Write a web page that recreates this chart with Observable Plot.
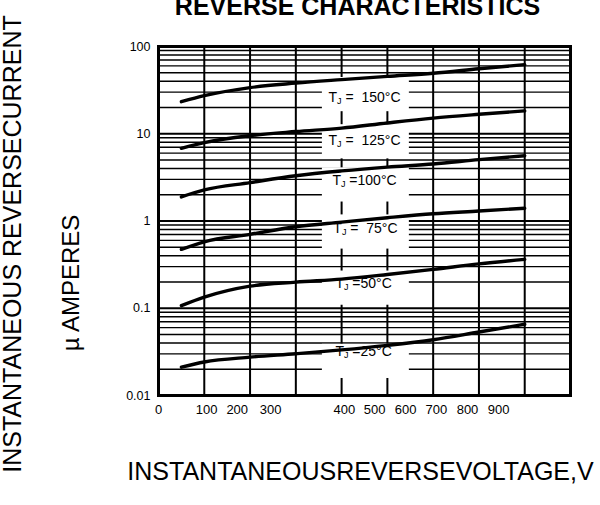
<!DOCTYPE html>
<html><head><meta charset="utf-8">
<script src="https://cdn.jsdelivr.net/npm/d3@7"></script>
<script src="https://cdn.jsdelivr.net/npm/@observablehq/plot@0.6"></script>
<style>
body{margin:0;background:#fff}
svg{font-family:Arial,"Liberation Sans",sans-serif}
</style>
</head><body><div id="chart"></div>
<script>
// Reverse voltage (x) sample points
const voltages = [50, 100, 200, 300, 400, 500, 600, 700, 800];
// Reverse current (µA) per junction temperature
const tempNames = ["150", "125", "100", "75", "50", "25"];
const iR150 = [23.3, 27.3, 33.8, 38.0, 41.7, 45.5, 49.4, 55.5, 62];
const iR125 = [6.8, 7.9, 9.5, 10.6, 11.6, 13.3, 15.1, 16.7, 18.3];
const iR100 = [1.89, 2.27, 2.75, 3.3, 3.75, 4.15, 4.5, 5.05, 5.6];
const iR75  = [0.473, 0.578, 0.703, 0.86, 0.97, 1.09, 1.21, 1.30, 1.40];
const iR50  = [0.107, 0.134, 0.179, 0.199, 0.216, 0.244, 0.279, 0.323, 0.363];
const iR25  = [0.0211, 0.0242, 0.0275, 0.0301, 0.0333, 0.0376, 0.0436, 0.0534, 0.0655];
const seriesValues = [iR150, iR125, iR100, iR75, iR50, iR25];

// Curve labels (text after the "TJ" prefix) and their anchor points
const labelRest = ["=  150°C", "=  125°C", "=100°C", "=  75°C", "=50°C", "=25°C"];
const labelX = [450, 450, 450, 452, 448, 448];
const labelY = [25.9, 8.3, 2.88, 0.81, 0.194, 0.032];
// White label backgrounds (center, in data units)
const boxX = [453, 453, 453, 453, 453, 453];
const boxY = [28.1, 8.09, 2.59, 0.748, 0.170, 0.0246];

// Axis ticks
const yTickValues = [0.01, 0.1, 1, 10, 100];
const yTickLabels = ["0.01", "0.1", "1", "10", "100"];
const xGridValues = [0, 100, 200, 300, 400, 500, 600, 700, 800, 900];
const xTickLabels = ["0", "100", "200", "300", "400", "500", "600", "700", "800", "900"];
const xTickLabelPos = [0, 105, 172, 245, 406, 472, 540, 607, 675, 743];

const titleText = "REVERSE CHARACTERISTICS";
const yTitle1 = "INSTANTANEOUS REVERSECURRENT";
const yTitle2 = "µ AMPERES";
const xTitle = "INSTANTANEOUSREVERSEVOLTAGE,V";

// build tables
const lineData = [];
tempNames.forEach((t, i) => voltages.forEach((v, j) => lineData.push({temp: t, v, i: seriesValues[i][j]})));
const minorY = [];
[0.01, 0.1, 1, 10].forEach(d => { for (let k = 2; k <= 9; k++) minorY.push(d * k); });
const boxes = boxX.map((x, i) => ({x1: x - 95, x2: x + 95, y1: boxY[i] / 1.57, y2: boxY[i] * 1.57}));
const labels = labelRest.map((r, i) => ({text: r, x: labelX[i], y: labelY[i]}));
const yTicks = yTickValues.map((v, i) => ({v, t: yTickLabels[i]}));
const xTicks = xTickLabelPos.map((p, i) => ({p, t: xTickLabels[i]}));

const chart = Plot.plot({
  width: 600, height: 505,
  marginLeft: 158, marginRight: 30, marginTop: 46, marginBottom: 110,
  style: {background: "#fff", color: "#000", fontFamily: "Arial, 'Liberation Sans', sans-serif", overflow: "visible"},
  x: {domain: [0, 900], axis: null},
  y: {type: "log", domain: [0.01, 100], axis: null},
  marks: [
    Plot.ruleY(minorY, {stroke: "#000", strokeWidth: 1.4}),
    Plot.ruleY(yTickValues, {stroke: "#000", strokeWidth: 2.2}),
    Plot.ruleX(xGridValues, {stroke: "#000", strokeWidth: 2}),
    Plot.rect(boxes, {x1: "x1", x2: "x2", y1: "y1", y2: "y2", fill: "#fff"}),
    Plot.frame({stroke: "#000", strokeWidth: 3}),
    Plot.text(labels, {x: "x", y: "y", text: "text", fontSize: 14, fill: "#000"}),
    Plot.line(lineData, {x: "v", y: "i", z: "temp", stroke: "#000", strokeWidth: 3.4, curve: "monotone-x"}),
    Plot.text(yTicks, {y: "v", text: "t", frameAnchor: "left", textAnchor: "end", dx: -8, fontSize: 12.5, fill: "#000"}),
    Plot.text(xTicks, {x: "p", text: "t", frameAnchor: "bottom", lineAnchor: "middle", dy: 14, fontSize: 13, fill: "#000"}),
    Plot.text([titleText], {frameAnchor: "top", lineAnchor: "middle", dy: -40, fontSize: 25, fontWeight: "bold", fill: "#000", dx: -7}),
    Plot.text([xTitle], {frameAnchor: "bottom", lineAnchor: "bottom", dy: 84, fontSize: 25, fill: "#000", dx: -4}),
    Plot.text([yTitle1], {frameAnchor: "left", textAnchor: "middle", lineAnchor: "bottom", rotate: -90, dx: -138, dy: 23, fontSize: 25, fill: "#000"}),
    Plot.text([yTitle2], {frameAnchor: "left", textAnchor: "middle", lineAnchor: "bottom", rotate: -90, dx: -80, dy: 62, fontSize: 24, fill: "#000"})
  ]
});
document.getElementById("chart").appendChild(chart);

// subscript J in curve labels
const ns = "http://www.w3.org/2000/svg";
chart.querySelectorAll("text").forEach(t => {
  const rest = t.textContent;
  if (!labelRest.includes(rest)) return;
  while (t.firstChild) t.removeChild(t.firstChild);
  t.setAttribute("xml:space", "preserve");
  t.style.whiteSpace = "pre";
  const a = document.createElementNS(ns, "tspan"); a.textContent = "T";
  const b = document.createElementNS(ns, "tspan"); b.textContent = "J"; b.setAttribute("font-size", "9"); b.setAttribute("dy", "2");
  const c = document.createElementNS(ns, "tspan"); c.textContent = " " + rest; c.setAttribute("dy", "-2");
  t.append(a, b, c);
});
</script>
</body></html>
